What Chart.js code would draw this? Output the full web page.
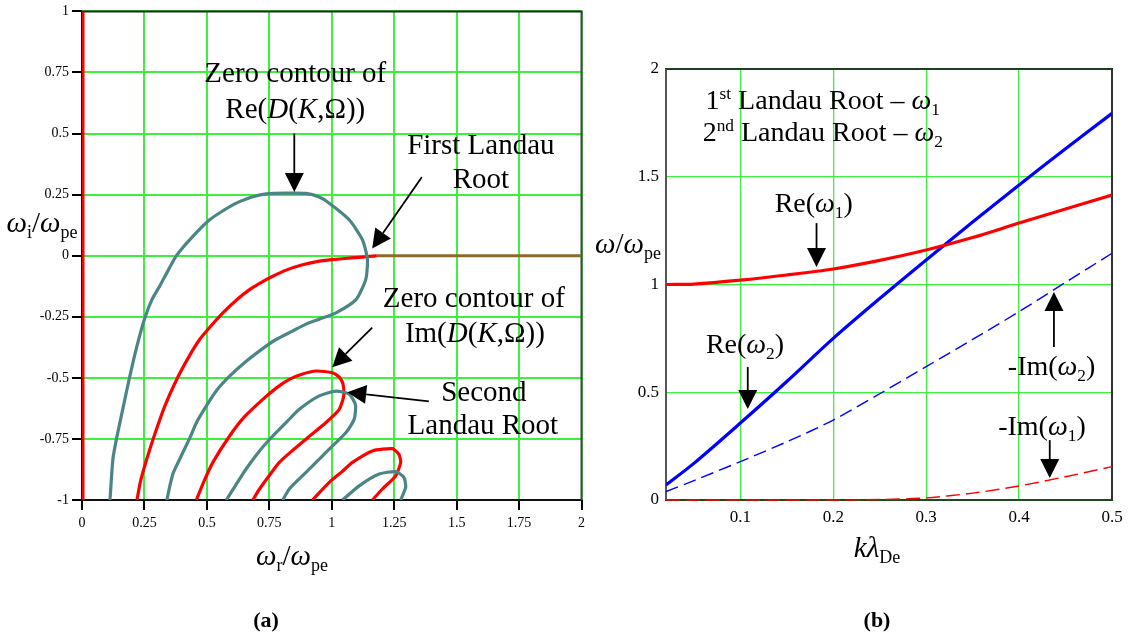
<!DOCTYPE html>
<html>
<head>
<meta charset="utf-8">
<script src="https://cdn.jsdelivr.net/npm/chart.js@4.4.1/dist/chart.umd.min.js"></script>
<style>
  body { margin: 0; background: #fff; }
  #wrap { position: relative; width: 1130px; height: 636px; }
  canvas { position: absolute; top: 0; }
</style>
</head>
<body>
<div id="wrap">
  <canvas id="chartA" width="590" height="636" style="left:0"></canvas>
  <canvas id="chartB" width="540" height="636" style="left:590px"></canvas>
</div>
<script>
// ---- (a) zero contours of D(K,Ω) in the complex ω plane, points are [ω_r, ω_i] ----
const reContour1 = [[0.112,-1],[0.124,-0.83],[0.14,-0.74],[0.165,-0.62],[0.19,-0.5],[0.22,-0.37],[0.25,-0.26],
  [0.28,-0.18],[0.311,-0.125],[0.345,-0.06],[0.378,0],[0.431,0.065],[0.511,0.147],[0.604,0.208],[0.68,0.24],
  [0.737,0.253],[0.82,0.256],[0.897,0.255],[0.95,0.24],[0.99,0.215],[1.07,0.147],[1.123,0.065],[1.143,-0.016],
  [1.136,-0.098],[1.097,-0.18],[1.017,-0.234],[0.95,-0.26],[0.897,-0.28],[0.84,-0.31],[0.777,-0.343],[0.737,-0.37],
  [0.66,-0.43],[0.591,-0.493],[0.54,-0.55],[0.498,-0.615],[0.46,-0.68],[0.43,-0.75],[0.391,-0.833],[0.365,-0.89],
  [0.35,-0.95],[0.34,-1]];
const imContour1 = [[0.22,-1],[0.235,-0.92],[0.26,-0.83],[0.285,-0.75],[0.33,-0.62],[0.38,-0.505],[0.43,-0.41],
  [0.471,-0.343],[0.51,-0.295],[0.564,-0.234],[0.62,-0.18],[0.671,-0.139],[0.72,-0.108],[0.764,-0.084],
  [0.82,-0.058],[0.883,-0.037],[0.94,-0.024],[1.003,-0.016],[1.08,-0.009],[1.163,-0.002],[1.18,0]];
const imContourAxis = [[1.18,0],[2,0]];
const imContourEdge = [[0,-1],[0,1]];
const imContour2 = [[0.458,-1],[0.49,-0.92],[0.524,-0.846],[0.591,-0.738],[0.65,-0.66],[0.724,-0.588],[0.78,-0.54],
  [0.83,-0.506],[0.88,-0.485],[0.937,-0.472],[1.003,-0.479],[1.03,-0.497],[1.045,-0.525],[1.048,-0.574],
  [1.03,-0.629],[0.977,-0.683],[0.897,-0.751],[0.84,-0.8],[0.79,-0.846],[0.75,-0.9],[0.711,-0.955],[0.684,-1]];
const reContour2 = [[0.578,-1],[0.615,-0.94],[0.657,-0.873],[0.71,-0.8],[0.764,-0.738],[0.82,-0.68],[0.87,-0.629],
  [0.95,-0.574],[1.017,-0.554],[1.07,-0.567],[1.095,-0.61],[1.09,-0.669],[1.057,-0.724],[0.977,-0.805],
  [0.897,-0.887],[0.83,-0.955],[0.804,-1]];
const imContour3 = [[0.923,-1],[0.99,-0.928],[1.04,-0.885],[1.083,-0.846],[1.163,-0.799],[1.243,-0.79],[1.269,-0.813],
  [1.276,-0.846],[1.256,-0.901],[1.203,-0.955],[1.163,-1]];
const reContour3 = [[1.043,-1],[1.11,-0.942],[1.19,-0.894],[1.256,-0.884],[1.289,-0.907],[1.296,-0.948],[1.276,-1]];

// ---- (b) Landau roots against kλ_De ----
const kLambda     = [0.02, 0.05, 0.1, 0.15, 0.2, 0.25, 0.3, 0.35, 0.4, 0.45, 0.5];
const reOmega1    = [1.0, 1.002, 1.02, 1.044, 1.072, 1.112, 1.16, 1.218, 1.285, 1.35, 1.415];
const reOmega2    = [0.07, 0.17, 0.357, 0.55, 0.75, 0.935, 1.114, 1.29, 1.462, 1.63, 1.794];
const negImOmega2 = [0.039, 0.09, 0.178, 0.27, 0.371, 0.493, 0.619, 0.745, 0.874, 1.01, 1.145];
const negImOmega1 = [0, 0, 0, 0, 0, 0.002, 0.01, 0.032, 0.065, 0.108, 0.155];

const FAMILY = '"Liberation Serif", "Times New Roman", serif';
const GRID = '#3cf03c';
const TEAL = '#4a8686';
Chart.defaults.font.family = FAMILY;
Chart.defaults.color = '#000';
Chart.defaults.animation = false;

const pts = arr => arr.map(p => ({ x: p[0], y: p[1] }));
const xy = (xs, ys) => xs.map((x, i) => ({ x: x, y: ys[i] }));
const fmt = v => String(+v.toFixed(2));

// draws a run of text pieces: {t, i: italic, b: bold, sub, sup}
function richText(ctx, cx, base, segs, size) {
  const fontOf = s => (s.i ? 'italic ' : '') + (s.b ? 'bold ' : '') +
    ((s.sub || s.sup) ? size * 0.62 : size) + 'px ' + FAMILY;
  let total = 0;
  const widths = segs.map(s => { ctx.font = fontOf(s); const w = ctx.measureText(s.t).width; total += w; return w; });
  let x = cx - total / 2;
  ctx.textAlign = 'left';
  ctx.textBaseline = 'alphabetic';
  ctx.fillStyle = '#000';
  segs.forEach((s, i) => {
    ctx.font = fontOf(s);
    const dy = s.sub ? size * 0.2 : s.sup ? -size * 0.36 : 0;
    ctx.fillText(s.t, x, base + dy);
    x += widths[i];
  });
}

function arrow(ctx, x1, y1, x2, y2) {
  const ang = Math.atan2(y2 - y1, x2 - x1), len = 19, half = 9.5;
  const bx = x2 - len * Math.cos(ang), by = y2 - len * Math.sin(ang);
  ctx.strokeStyle = '#000';
  ctx.lineWidth = 1.8;
  ctx.beginPath(); ctx.moveTo(x1, y1); ctx.lineTo(bx, by); ctx.stroke();
  ctx.fillStyle = '#000';
  ctx.beginPath();
  ctx.moveTo(x2, y2);
  ctx.lineTo(bx + half * Math.sin(ang), by - half * Math.cos(ang));
  ctx.lineTo(bx - half * Math.sin(ang), by + half * Math.cos(ang));
  ctx.closePath(); ctx.fill();
}

// frame around the plot area, drawn under the curves
const frame = colors => ({
  id: 'frame',
  beforeDatasetsDraw(chart) {
    const { ctx, chartArea: a } = chart;
    ctx.save();
    ctx.lineWidth = 2;
    const side = (c, x1, y1, x2, y2) => { ctx.strokeStyle = c; ctx.beginPath(); ctx.moveTo(x1, y1); ctx.lineTo(x2, y2); ctx.stroke(); };
    side(colors.top, a.left - 1, a.top, a.right + 1, a.top);
    side(colors.bottom, a.left - 1, a.bottom, a.right + 1, a.bottom);
    side(colors.left, a.left, a.top, a.left, a.bottom);
    side(colors.right, a.right, a.top, a.right, a.bottom);
    ctx.restore();
  }
});

// text labels and arrows; data-space items go through the scales, titles are canvas pixels
const notes = items => ({
  id: 'notes',
  afterDraw(chart) {
    const { ctx, scales: { x, y } } = chart;
    ctx.save();
    items.forEach(n => {
      if (n.arrow) {
        arrow(ctx, x.getPixelForValue(n.arrow[0]), y.getPixelForValue(n.arrow[1]),
          x.getPixelForValue(n.arrow[2]), y.getPixelForValue(n.arrow[3]));
      } else if (n.at) {
        richText(ctx, x.getPixelForValue(n.at[0]), y.getPixelForValue(n.at[1]), n.segs, n.size);
      } else {
        richText(ctx, n.px[0], n.px[1], n.segs, n.size);
      }
    });
    ctx.restore();
  }
});

const line = (data, color, width, extra) => Object.assign({
  data: data, showLine: true, borderColor: color, borderWidth: width,
  pointRadius: 0, tension: 0.2, fill: false
}, extra || {});

// ---------- chart (a) ----------
const D_OF_K = [{ t: '(' }, { t: 'D', i: 1 }, { t: '(' }, { t: 'K', i: 1 }, { t: ',Ω))' }];
new Chart(document.getElementById('chartA'), {
  type: 'scatter',
  data: {
    datasets: [
      line(pts(imContourEdge), '#ff0000', 5),
      line(pts(reContour1), TEAL, 3.2),
      line(pts(reContour2), TEAL, 3.2),
      line(pts(reContour3), TEAL, 3.2),
      line(pts(imContour1), '#ff0000', 3.2),
      line(pts(imContour2), '#ff0000', 3.2),
      line(pts(imContour3), '#ff0000', 3.2),
      line(pts(imContourAxis), '#8c6a2c', 3, { tension: 0 })
    ]
  },
  options: {
    responsive: false,
    layout: { padding: { top: 11, right: 7, bottom: 96, left: 0 } },
    plugins: { legend: { display: false }, tooltip: { enabled: false } },
    scales: {
      x: {
        type: 'linear', min: 0, max: 2,
        ticks: { stepSize: 0.25, font: { size: 14 }, padding: 5, maxRotation: 0, callback: fmt },
        grid: { color: GRID, lineWidth: 2, tickColor: '#000', tickLength: 10, tickWidth: 2 },
        border: { display: false },
        afterFit(s) { s.height = 40; }
      },
      y: {
        type: 'linear', min: -1, max: 1,
        ticks: { stepSize: 0.25, font: { size: 14 }, padding: 3, callback: fmt },
        grid: { color: GRID, lineWidth: 2, tickColor: '#000', tickLength: 10, tickWidth: 2 },
        border: { display: false },
        afterFit(s) { s.width = 82; }
      }
    }
  },
  plugins: [
    frame({ top: '#222', bottom: '#111', left: '#111', right: '#444' }),
    notes([
      { at: [0.854, 0.71], size: 29, segs: [{ t: 'Zero contour of' }] },
      { at: [0.854, 0.563], size: 29, segs: [{ t: 'Re' }].concat(D_OF_K) },
      { arrow: [0.85, 0.5, 0.85, 0.261] },
      { at: [1.597, 0.416], size: 29, segs: [{ t: 'First Landau' }] },
      { at: [1.597, 0.278], size: 29, segs: [{ t: 'Root' }] },
      { arrow: [1.361, 0.322, 1.162, 0.029] },
      { at: [1.569, -0.208], size: 29, segs: [{ t: 'Zero contour of' }] },
      { at: [1.573, -0.355], size: 29, segs: [{ t: 'Im' }].concat(D_OF_K) },
      { arrow: [1.162, -0.294, 1.002, -0.457] },
      { at: [1.609, -0.596], size: 29, segs: [{ t: 'Second' }] },
      { at: [1.605, -0.731], size: 29, segs: [{ t: 'Landau Root' }] },
      { arrow: [1.389, -0.596, 1.062, -0.559] },
      { px: [42, 232], size: 29, segs: [{ t: 'ω', i: 1 }, { t: 'i', sub: 1 }, { t: '/' }, { t: 'ω', i: 1 }, { t: 'pe', sub: 1 }] },
      { px: [292, 565], size: 29, segs: [{ t: 'ω', i: 1 }, { t: 'r', sub: 1 }, { t: '/' }, { t: 'ω', i: 1 }, { t: 'pe', sub: 1 }] },
      { px: [266, 627], size: 22, segs: [{ t: '(a)', b: 1 }] }
    ])
  ]
});

// ---------- chart (b) ----------
new Chart(document.getElementById('chartB'), {
  type: 'scatter',
  data: {
    datasets: [
      line(xy(kLambda, negImOmega1), '#ff0000', 1.4, { borderDash: [14, 6], clip: 4, tension: 0.3 }),
      line(xy(kLambda, negImOmega2), '#0000ff', 1.4, { borderDash: [13, 6], tension: 0.3 }),
      line(xy(kLambda, reOmega1), '#ff0000', 3.2, { tension: 0.3 }),
      line(xy(kLambda, reOmega2), '#0000ff', 3.2, { tension: 0.3 })
    ]
  },
  options: {
    responsive: false,
    layout: { padding: { top: 69, right: 18, bottom: 96, left: 0 } },
    plugins: { legend: { display: false }, tooltip: { enabled: false } },
    scales: {
      x: {
        type: 'linear', min: 0.02, max: 0.5,
        ticks: { stepSize: 0.1, includeBounds: false, font: { size: 17 }, padding: 7, maxRotation: 0, callback: fmt },
        grid: { color: GRID, lineWidth: 1.3, drawTicks: false },
        border: { display: false },
        afterFit(s) { s.height = 40; }
      },
      y: {
        type: 'linear', min: 0, max: 2,
        ticks: { stepSize: 0.5, font: { size: 17 }, padding: 7, callback: fmt },
        grid: { color: GRID, lineWidth: 1.3, drawTicks: false },
        border: { display: false },
        afterFit(s) { s.width = 76; }
      }
    }
  },
  plugins: [
    frame({ top: '#1f3d1f', bottom: '#1f4a1f', left: '#555', right: '#333' }),
    notes([
      { at: [0.1887, 1.814], size: 28, segs: [{ t: '1' }, { t: 'st', sup: 1 }, { t: ' Landau Root – ' }, { t: 'ω', i: 1 }, { t: '1', sub: 1 }] },
      { at: [0.1887, 1.666], size: 28, segs: [{ t: '2' }, { t: 'nd', sup: 1 }, { t: ' Landau Root – ' }, { t: 'ω', i: 1 }, { t: '2', sub: 1 }] },
      { at: [0.179, 1.336], size: 28, segs: [{ t: 'Re(' }, { t: 'ω', i: 1 }, { t: '1', sub: 1 }, { t: ')' }] },
      { arrow: [0.182, 1.285, 0.182, 1.081] },
      { at: [0.105, 0.682], size: 28, segs: [{ t: 'Re(' }, { t: 'ω', i: 1 }, { t: '2', sub: 1 }, { t: ')' }] },
      { arrow: [0.108, 0.617, 0.108, 0.422] },
      { at: [0.435, 0.58], size: 28, segs: [{ t: '-Im(' }, { t: 'ω', i: 1 }, { t: '2', sub: 1 }, { t: ')' }] },
      { arrow: [0.4375, 0.71, 0.4375, 0.965] },
      { at: [0.4246, 0.302], size: 28, segs: [{ t: '-Im(' }, { t: 'ω', i: 1 }, { t: '1', sub: 1 }, { t: ')' }] },
      { arrow: [0.433, 0.278, 0.433, 0.102] },
      { px: [38, 253], size: 29, segs: [{ t: 'ω', i: 1 }, { t: '/' }, { t: 'ω', i: 1 }, { t: 'pe', sub: 1 }] },
      { px: [287, 557], size: 29, segs: [{ t: 'k', i: 1 }, { t: 'λ', i: 1 }, { t: 'De', sub: 1 }] },
      { px: [287, 627], size: 22, segs: [{ t: '(b)', b: 1 }] }
    ])
  ]
});
</script>
</body>
</html>
